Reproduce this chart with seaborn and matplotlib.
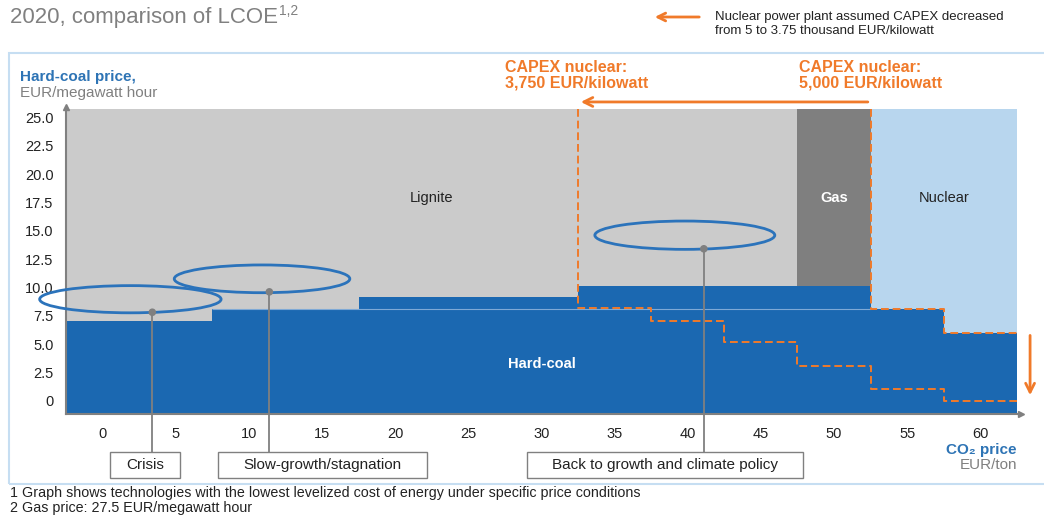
import matplotlib.pyplot as plt
import matplotlib.patches as mpatches
import matplotlib.transforms as mtransforms
import seaborn as sns

# axes: CO2 price (EUR/ton) vs hard-coal price (EUR/MWh)
co2_ticks = [0, 5, 10, 15, 20, 25, 30, 35, 40, 45, 50, 55, 60]
co2_bin_edges = [2.5, 7.5, 12.5, 17.5, 22.5, 27.5, 32.5, 37.5, 42.5, 47.5, 52.5, 57.5]
coal_ticks = [0, 2.5, 5.0, 7.5, 10.0, 12.5, 15.0, 17.5, 20.0, 22.5, 25.0]
coal_tick_labels = ["0", "2.5", "5.0", "7.5", "10.0", "12.5", "15.0", "17.5", "20.0", "22.5", "25.0"]

# cheapest technology above the hard-coal boundary
tech_names = ["Lignite", "Gas", "Nuclear"]
tech_from = [-2.5, 47.5, 52.5]
tech_to = [47.5, 52.5, 62.5]
tech_colors = ["#cbcbcb", "#7f7f7f", "#b8d6ee"]
tech_label_colors = ["#222222", "white", "#222222"]

# hard-coal is cheapest below these coal prices
coal_from = [-2.5, 7.5, 17.5, 32.5, 52.5, 57.5]
coal_to = [7.5, 17.5, 32.5, 52.5, 57.5, 62.5]
coal_limit = [6.35, 7.36, 8.42, 9.42, 7.36, 5.3]

# nuclear boundary for CAPEX 5,000 and 3,750 EUR/kW
capex5000_co2 = [52.5, 52.5, 57.5, 62.5]
capex5000_coal = [25.0, 7.36, 5.3, 5.3]
capex3750_co2 = [32.5, 32.5, 37.5, 42.5, 47.5, 52.5, 57.5, 62.5]
capex3750_coal = [25.0, 7.5, 6.35, 4.45, 2.36, 0.3, -0.7, -0.7]

# scenarios
scen_names = ["Crisis", "Slow-growth/stagnation", "Back to growth and climate policy"]
scen_co2 = [3.4, 11.4, 41.1]
scen_coal = [7.1, 8.9, 12.7]
ell_co2 = [1.9, 10.9, 39.8]
ell_coal = [8.25, 10.05, 13.9]
ell_w = [12.4, 12.0, 12.3]
ell_h = [2.4, 2.45, 2.5]
box_from = [0.5, 7.9, 29.0]
box_to = [5.3, 22.2, 47.9]

BLUE = "#1b68b1"
ORANGE = "#f07a2a"
GRAY = "#808080"
TXT_BLUE = "#2e74b5"

sns.set_style("white")
plt.rcParams["font.family"] = ["Liberation Sans", "DejaVu Sans"]

W, H = 1044, 515
fig = plt.figure(figsize=(W / 100, H / 100), dpi=100)
fx = lambda px: px / W
fy = lambda py: 1 - py / H

y0, y1 = -1.88, 25.25
ax = fig.add_axes([fx(66), fy(414), fx(955.3), (414 - 106.6) / H])

# technology blocks and hard-coal area
ax.bar(tech_from, [y1 - 0.25 - y0] * 3, width=[b - a for a, b in zip(tech_from, tech_to)],
       bottom=y0, align="edge", color=tech_colors, linewidth=0, zorder=1)
ax.bar(coal_from, [c - y0 for c in coal_limit], width=[b - a for a, b in zip(coal_from, coal_to)],
       bottom=y0, align="edge", color=BLUE, linewidth=0, zorder=1)
ax.hlines(coal_limit[1], coal_from[1], coal_to[3], color="#7ea9d6", lw=0.8, zorder=1.5)

for name, a, b, c in zip(tech_names, tech_from, tech_to, tech_label_colors):
    x = 22.5 if name == "Lignite" else (a + b) / 2
    ax.text(x, 17.2, name, ha="center", va="center", fontsize=10.5, color=c,
            fontweight="bold" if name == "Gas" else "normal")
ax.text(30, 2.5, "Hard-coal", ha="center", va="center", fontsize=10.5, color="white", fontweight="bold")

# CAPEX boundaries
sns.lineplot(x=capex5000_co2, y=capex5000_coal, estimator=None, sort=False, drawstyle="steps-post",
             color=ORANGE, linestyle=(0, (4, 2)), lw=1.4, ax=ax, zorder=2)
sns.lineplot(x=capex3750_co2, y=capex3750_coal, estimator=None, sort=False, drawstyle="steps-post",
             color=ORANGE, linestyle=(0, (4, 2)), lw=1.4, ax=ax, zorder=2)

# scenarios
for x, y, w, h in zip(ell_co2, ell_coal, ell_w, ell_h):
    ax.add_patch(mpatches.Ellipse((x, y), w, h, fill=False, edgecolor="#2b73bb", lw=2, zorder=3,
                                  clip_on=False))
box_top, box_bot = -5.23, -7.53
ax.vlines(scen_co2, box_top, scen_coal, color=GRAY, lw=1.3, zorder=3, clip_on=False)
sns.scatterplot(x=scen_co2, y=scen_coal, color=GRAY, s=30, edgecolor="none", zorder=4, ax=ax, clip_on=False)
for name, a, b in zip(scen_names, box_from, box_to):
    ax.add_patch(mpatches.Rectangle((a, box_bot), b - a, box_top - box_bot, fill=True, facecolor="white",
                                    edgecolor=GRAY, lw=1, clip_on=False, zorder=3))
    ax.text((a + b) / 2, (box_top + box_bot) / 2, name, ha="center", va="center", fontsize=11,
            color="#222222", clip_on=False, zorder=4)

# arrows
ax.annotate("", xy=(32.5, 25.66), xytext=(52.5, 25.66), annotation_clip=False,
            arrowprops=dict(arrowstyle="->", color=ORANGE, lw=2, mutation_scale=16))
ax.annotate("", xy=(63.4, -0.47), xytext=(63.4, 5.3), annotation_clip=False,
            arrowprops=dict(arrowstyle="->", color=ORANGE, lw=2, mutation_scale=16))

ax.set_xlim(-2.5, 62.8)
ax.set_ylim(y0, y1)
ax.set_xticks(co2_ticks)
ax.set_xticklabels([str(t) for t in co2_ticks])
ax.set_xticks(co2_bin_edges, minor=True)
ax.set_yticks(coal_ticks)
ax.set_yticklabels(coal_tick_labels)
ax.tick_params(axis="x", which="major", length=0, pad=9, labelsize=10.5, labelcolor="#222222")
ax.tick_params(axis="x", which="minor", direction="in", length=5, color=GRAY, width=1)
ax.tick_params(axis="y", direction="in", length=5, color=GRAY, width=1, pad=9,
               labelsize=10.5, labelcolor="#222222")
off = mtransforms.ScaledTranslation(0, -8 / 100, fig.dpi_scale_trans)
for lab in ax.get_yticklabels():
    lab.set_transform(lab.get_transform() + off)
for s in ["top", "right"]:
    ax.spines[s].set_visible(False)
for s in ["left", "bottom"]:
    ax.spines[s].set_color(GRAY)
    ax.spines[s].set_linewidth(1.5)
ax.plot(1, 0, ">", color=GRAY, ms=5, transform=ax.transAxes, clip_on=False)
ax.plot(0, 1, "^", color=GRAY, ms=5, transform=ax.transAxes, clip_on=False)
ax.set_facecolor("none")

# frame and outer texts
fig.patches.append(mpatches.Rectangle((fx(9), fy(484)), 1.2, (484 - 53) / H, transform=fig.transFigure,
                                      fill=False, edgecolor="#c6def2", lw=1.5))
title = fig.text(fx(10), fy(17), "2020, comparison of LCOE", va="center", fontsize=16, color=GRAY)
bb = title.get_window_extent(renderer=fig.canvas.get_renderer())
fig.text(bb.x1 / W + fx(1), fy(11), "1,2", va="center", fontsize=10, color=GRAY)
fig.patches.append(mpatches.FancyArrowPatch((fx(702), fy(17)), (fx(652), fy(17)), transform=fig.transFigure,
                                            arrowstyle="->", color=ORANGE, lw=2, mutation_scale=14))
fig.text(fx(715), fy(17), "Nuclear power plant assumed CAPEX decreased", va="center", fontsize=9.5, color="#222222")
fig.text(fx(715), fy(31), "from 5 to 3.75 thousand EUR/kilowatt", va="center", fontsize=9.5, color="#222222")
fig.text(fx(505), fy(75.5), "CAPEX nuclear:\n3,750 EUR/kilowatt", va="center", fontsize=11.5,
         color=ORANGE, fontweight="bold", linespacing=1.05)
fig.text(fx(799), fy(75.5), "CAPEX nuclear:\n5,000 EUR/kilowatt", va="center", fontsize=11.5,
         color=ORANGE, fontweight="bold", linespacing=1.05)
fig.text(fx(20), fy(77), "Hard-coal price,", va="center", fontsize=11, color=TXT_BLUE, fontweight="bold")
fig.text(fx(20), fy(93), "EUR/megawatt hour", va="center", fontsize=11, color=GRAY)
fig.text(fx(1017), fy(450), "CO₂ price", ha="right", va="center", fontsize=11, color=TXT_BLUE, fontweight="bold")
fig.text(fx(1017), fy(465), "EUR/ton", ha="right", va="center", fontsize=11, color=GRAY)
fig.text(fx(10), fy(493), "1 Graph shows technologies with the lowest levelized cost of energy under specific price conditions",
         va="center", fontsize=10.3, color="#222222")
fig.text(fx(10), fy(508), "2 Gas price: 27.5 EUR/megawatt hour", va="center", fontsize=10.3, color="#222222")

fig.savefig("out.png", dpi=100)
